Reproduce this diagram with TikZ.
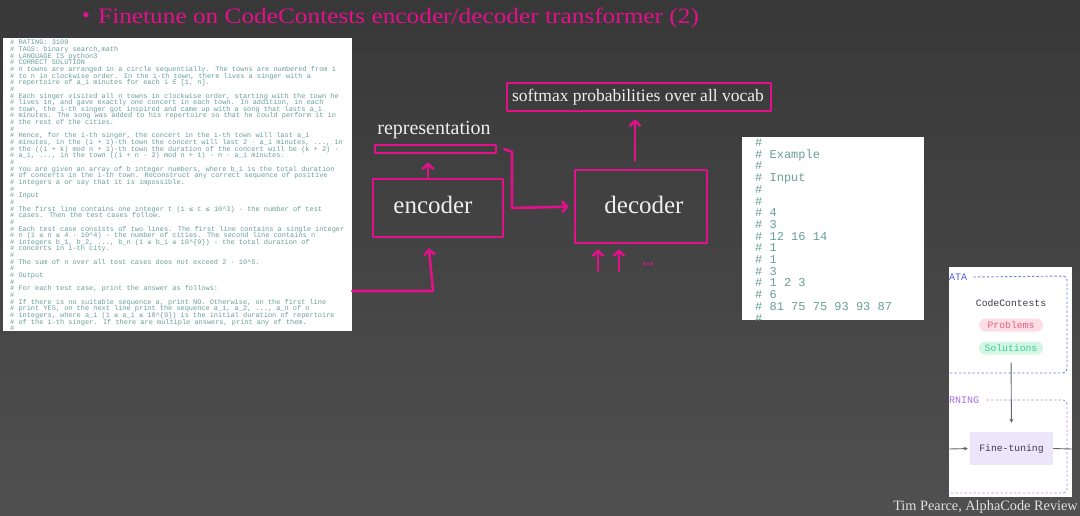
\documentclass[tikz,border=0pt]{standalone}
\usepackage{fontspec}
\setmainfont{Liberation Serif}
\newfontfamily\codefont{Liberation Mono}
\newfontfamily\csymfont{DejaVu Sans Mono}
\newfontfamily\titlefont[FakeStretch=1.15]{Liberation Serif}
\usetikzlibrary{arrows.meta,calc}
\definecolor{bgtop}{RGB}{56,56,56}
\definecolor{bgbot}{RGB}{80,80,80}
\definecolor{ink}{RGB}{226,16,138}
\definecolor{codecol}{RGB}{105,160,150}
\definecolor{labelcol}{RGB}{238,238,238}
\definecolor{footcol}{RGB}{225,225,225}
\definecolor{dblue}{RGB}{110,130,230}
\definecolor{dbluetx}{RGB}{80,100,220}
\definecolor{dpurple}{RGB}{190,140,235}
\definecolor{dpurpletx}{RGB}{170,110,230}
\definecolor{pinkbg}{RGB}{253,222,230}
\definecolor{pinktx}{RGB}{225,95,125}
\definecolor{greenbg}{RGB}{212,246,228}
\definecolor{greentx}{RGB}{60,205,140}
\definecolor{ftbg}{RGB}{236,230,251}
\definecolor{paneltx}{RGB}{60,60,72}
\newcommand\codele{{\csymfont ≤}}
\newcommand\codein{{\csymfont ∈}}
\newcommand\codeleft[2]{\node[codeL] (l#1) at (10,{44.8+(#1-1)*6.65}) {#2};}
\newcommand\coderight[2]{\node[codeR] (r#1) at (755,{146.5+(#1-1)*11.7}) {#2};}
\begin{document}
\begin{tikzpicture}[x=1pt,y=-1pt,
  inkline/.style={draw=ink, line width=2.6pt, line cap=round, line join=round},
  inkarrow/.style={inkline, -{Straight Barb[length=5pt,width=11pt]}},
  inkbox/.style={inkline, inner sep=0pt},
  whitelabel/.style={text=labelcol, inner sep=0pt},
  codeL/.style={anchor=base west, inner sep=0pt, text=codecol, font=\codefont\fontsize{6.93}{7}\selectfont},
  codeR/.style={anchor=base west, inner sep=0pt, text=codecol, font=\codefont\fontsize{12}{12}\selectfont},
  paperbox/.style={fill=white, draw=none, inner sep=0pt},
  pill/.style={rounded corners=6.5pt, minimum width=64, minimum height=13, inner sep=0pt, font=\codefont\fontsize{9.75}{10}\selectfont},
  grayarrow/.style={draw=gray!80!black, line width=0.9pt, -{Stealth[length=4pt,width=4pt]}}
]
\useasboundingbox (0,0) rectangle (1080,515);
\shade[top color=bgtop, bottom color=bgbot] (0,0) rectangle (1080,515);

% title
\node[text=ink, font=\fontsize{22}{24}\selectfont, inner sep=0pt] (bullet) at (86,18) {•};
\node[text=ink, font=\titlefont\fontsize{22}{24}\selectfont, anchor=west, inner sep=0pt] (title) at (98,18) {Finetune on CodeContests encoder/decoder transformer (2)};

% left problem statement
\node[paperbox, minimum width=349, minimum height=293] (src) at (177.5,184.5) {};
\begin{scope}
\clip (src.north west) rectangle (src.south east);
\codeleft{1}{\# RATING: 3100}
\codeleft{2}{\# TAGS: binary search,math}
\codeleft{3}{\# LANGUAGE IS python3}
\codeleft{4}{\# CORRECT SOLUTION}
\codeleft{5}{\# n towns are arranged in a circle sequentially. The towns are numbered from 1}
\codeleft{6}{\# to n in clockwise order. In the i-th town, there lives a singer with a}
\codeleft{7}{\# repertoire of a\_i minutes for each i \codein{} [1, n].}
\codeleft{8}{\#}
\codeleft{9}{\# Each singer visited all n towns in clockwise order, starting with the town he}
\codeleft{10}{\# lives in, and gave exactly one concert in each town. In addition, in each}
\codeleft{11}{\# town, the i-th singer got inspired and came up with a song that lasts a\_i}
\codeleft{12}{\# minutes. The song was added to his repertoire so that he could perform it in}
\codeleft{13}{\# the rest of the cities.}
\codeleft{14}{\#}
\codeleft{15}{\# Hence, for the i-th singer, the concert in the i-th town will last a\_i}
\codeleft{16}{\# minutes, in the (i + 1)-th town the concert will last 2 · a\_i minutes, ..., in}
\codeleft{17}{\# the ((i + k) mod n + 1)-th town the duration of the concert will be (k + 2) ·}
\codeleft{18}{\# a\_i, ..., in the town ((i + n - 2) mod n + 1) - n · a\_i minutes.}
\codeleft{19}{\#}
\codeleft{20}{\# You are given an array of b integer numbers, where b\_i is the total duration}
\codeleft{21}{\# of concerts in the i-th town. Reconstruct any correct sequence of positive}
\codeleft{22}{\# integers a or say that it is impossible.}
\codeleft{23}{\#}
\codeleft{24}{\# Input}
\codeleft{25}{\#}
\codeleft{26}{\# The first line contains one integer t (1 \codele{} t \codele{} 10\^{}3) - the number of test}
\codeleft{27}{\# cases. Then the test cases follow.}
\codeleft{28}{\#}
\codeleft{29}{\# Each test case consists of two lines. The first line contains a single integer}
\codeleft{30}{\# n (1 \codele{} n \codele{} 4 · 10\^{}4) - the number of cities. The second line contains n}
\codeleft{31}{\# integers b\_1, b\_2, ..., b\_n (1 \codele{} b\_i \codele{} 10\^{}\{9\}) - the total duration of}
\codeleft{32}{\# concerts in i-th city.}
\codeleft{33}{\#}
\codeleft{34}{\# The sum of n over all test cases does not exceed 2 · 10\^{}5.}
\codeleft{35}{\#}
\codeleft{36}{\# Output}
\codeleft{37}{\#}
\codeleft{38}{\# For each test case, print the answer as follows:}
\codeleft{39}{\#}
\codeleft{40}{\# If there is no suitable sequence a, print NO. Otherwise, on the first line}
\codeleft{41}{\# print YES, on the next line print the sequence a\_1, a\_2, ..., a\_n of n}
\codeleft{42}{\# integers, where a\_i (1 \codele{} a\_i \codele{} 10\^{}\{9\}) is the initial duration of repertoire}
\codeleft{43}{\# of the i-th singer. If there are multiple answers, print any of them.}
\codeleft{44}{\#}
\end{scope}

% right example box
\node[paperbox, minimum width=182, minimum height=183] (ex) at (833,228.5) {};
\begin{scope}
\clip (ex.north west) rectangle (ex.south east);
\coderight{1}{\#}
\coderight{2}{\# Example}
\coderight{3}{\#}
\coderight{4}{\# Input}
\coderight{5}{\#}
\coderight{6}{\#}
\coderight{7}{\# 4}
\coderight{8}{\# 3}
\coderight{9}{\# 12 16 14}
\coderight{10}{\# 1}
\coderight{11}{\# 1}
\coderight{12}{\# 3}
\coderight{13}{\# 1 2 3}
\coderight{14}{\# 6}
\coderight{15}{\# 81 75 75 93 93 87}
\coderight{16}{\#}
\end{scope}

% hand-drawn diagram
\node[inkbox, minimum width=130, minimum height=58] (enc) at (438,208) {};
\node[whitelabel, font=\fontsize{25}{27}\selectfont] (enctx) at (433,205) {encoder};
\node[inkbox, minimum width=132, minimum height=73] (dec) at (641,206.5) {};
\node[whitelabel, font=\fontsize{25}{27}\selectfont] (dectx) at (644,205) {decoder};
\node[inkbox, minimum width=121, minimum height=8] (bar) at (435.5,149) {};
\node[whitelabel, font=\fontsize{20}{22}\selectfont] (reptx) at (434,130) {representation};
\node[inkbox, minimum width=264, minimum height=28] (soft) at (639,97) {};
\node[whitelabel, font=\fontsize{17.5}{19}\selectfont] (softtx) at (638,97) {softmax probabilities over all vocab};

% encoder -> representation
\draw[inkarrow, shorten <=1pt, shorten >=8pt] ([xshift=-10pt]enc.north) -- ([xshift=-7.5pt]bar.south);
% representation -> decoder
\coordinate (b1) at (512,152);
\coordinate (b2) at (512,208);
\draw[inkarrow, shorten >=5pt] ([xshift=7pt]bar.east) -- (b1) -- (b2) -- (dec.west);
% decoder -> softmax
\draw[inkarrow, shorten <=8pt, shorten >=7pt] ([xshift=-6pt]dec.north) -- ([xshift=-4pt]soft.south);
% inputs below decoder
\coordinate (in1) at (598,271);
\coordinate (in2) at (619,271);
\draw[inkarrow, shorten >=5pt] (in1) -- ([xshift=-43pt]dec.south);
\draw[inkarrow, shorten >=5pt] (in2) -- ([xshift=-22pt]dec.south);
\node[text=ink, font=\bfseries\fontsize{16}{18}\selectfont, inner sep=0pt] (dots) at (648,264) {...};
% problem statement -> encoder
\coordinate (k1) at (433,291);
\draw[inkarrow, shorten <=0pt, shorten >=10pt] (src.east |- k1) -- (k1) -- ([xshift=-10pt]enc.south);

% bottom-right panel
\node[paperbox, minimum width=123, minimum height=230] (panel) at (1010.5,382) {};
\node[anchor=west, inner sep=0pt, text=dbluetx, font=\codefont\fontsize{10}{11}\selectfont] (ata) at (949,277) {ATA};
\coordinate (bd1) at (1067,276);
\coordinate (bd2) at (1067,373);
\coordinate (bd3) at (949,373);
\draw[draw=dblue, line width=0.9pt, dash pattern=on 2.5pt off 2pt, rounded corners=4pt] ([xshift=6pt]ata.east) -- (bd1) -- (bd2) -- (bd3);
\node[inner sep=0pt, text=paneltx, font=\codefont\fontsize{9.75}{10}\selectfont] (cc) at (1011,303) {CodeContests};
\node[pill, fill=pinkbg, text=pinktx] (prob) at (1011,325) {Problems};
\node[pill, fill=greenbg, text=greentx] (sol) at (1011,348) {Solutions};
\node[anchor=west, inner sep=0pt, text=dpurpletx, font=\codefont\fontsize{10}{11}\selectfont] (rning) at (949,400) {RNING};
\coordinate (pd1) at (1067,400);
\coordinate (pd2) at (1067,493);
\coordinate (pd3) at (949,493);
\draw[draw=dpurple, line width=0.9pt, dash pattern=on 2.5pt off 2pt, rounded corners=4pt] ([xshift=7pt]rning.east) -- (pd1) -- (pd2) -- (pd3);
\node[fill=ftbg, minimum width=83, minimum height=33, inner sep=0pt, text=paneltx, font=\codefont\fontsize{9.75}{10}\selectfont] (ft) at (1011.5,448.5) {Fine-tuning};
\draw[grayarrow, shorten <=8pt, shorten >=9pt] (sol.south) -- (ft.north);
\coordinate (fin) at (949,449);
\coordinate (fout) at (1072,449);
\draw[grayarrow, shorten >=2pt] (fin) -- (ft.west);
\draw[draw=gray!80!black, line width=0.9pt] (ft.east) -- (fout);

% footer
\node[anchor=east, inner sep=0pt, text=footcol, font=\fontsize{14.3}{16}\selectfont] (foot) at (1078,507) {Tim Pearce, AlphaCode Review};
\end{tikzpicture}
\end{document}
